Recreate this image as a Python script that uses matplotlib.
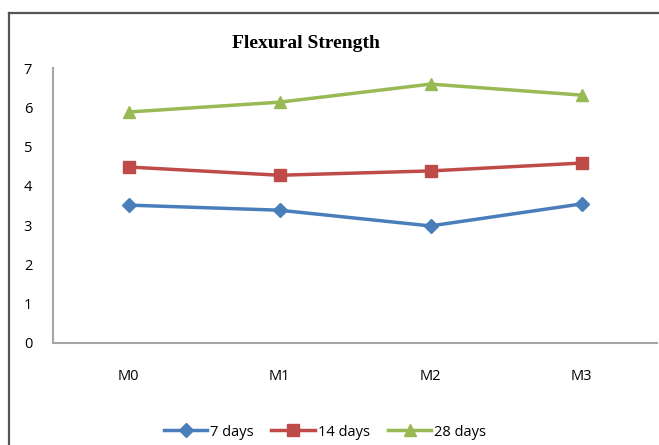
import matplotlib
matplotlib.use("Agg")
import matplotlib.pyplot as plt
from matplotlib.lines import Line2D

categories = ["M0", "M1", "M2", "M3"]
days_7 = [3.51, 3.38, 2.98, 3.54]
days_14 = [4.48, 4.27, 4.38, 4.58]
days_28 = [5.88, 6.13, 6.59, 6.31]
yticks = [0, 1, 2, 3, 4, 5, 6, 7]

W, H = 659, 445
fig = plt.figure(figsize=(W / 100, H / 100), dpi=100)
ax = fig.add_axes([53 / W, (H - 343) / H, 604 / W, 275 / H])

x = range(len(categories))
ax.plot(x, days_7, color="#4A7EBB", lw=2.5, marker="D", ms=7, label="7 days")
ax.plot(x, days_14, color="#BE4B48", lw=2.5, marker="s", ms=8, label="14 days")
ax.plot(x, days_28, color="#98B954", lw=2.5, marker="^", ms=9, label="28 days")

ax.set_xlim(-0.5, 3.5)
ax.set_ylim(0, 7)
ax.set_xticks(list(x))
ax.set_xticklabels(categories)
ax.set_yticks(yticks)
ax.tick_params(axis="both", length=0, labelsize=10.5, colors="black")
ax.tick_params(axis="y", pad=15)
ax.tick_params(axis="x", pad=19)
for lbl in ax.get_xticklabels() + ax.get_yticklabels():
    lbl.set_family(["Open Sans", "DejaVu Sans"])

for s in ["top", "right"]:
    ax.spines[s].set_visible(False)
for s in ["left", "bottom"]:
    ax.spines[s].set_color("#A6A6A6")
    ax.spines[s].set_linewidth(1.5)

fig.text(306 / W, 1 - 43 / H, "Flexural Strength", ha="center", va="center",
         family="Liberation Serif", fontweight="bold", fontsize=14)

leg = fig.legend(loc="center", bbox_to_anchor=(325 / W, 1 - 432 / H), ncol=3,
                 frameon=False, handlelength=3, columnspacing=1.2,
                 handletextpad=0.2, prop={"family": "Open Sans", "size": 10.5})

# outer frame (left and top edges of the original picture)
fig.add_artist(Line2D([8.5 / W, 8.5 / W], [0, 1 - 13 / H], transform=fig.transFigure,
                      color="#555555", lw=1.6))
fig.add_artist(Line2D([8.5 / W, 1], [1 - 13 / H, 1 - 13 / H], transform=fig.transFigure,
                      color="#555555", lw=1.6))

fig.savefig("out.png", dpi=100)
